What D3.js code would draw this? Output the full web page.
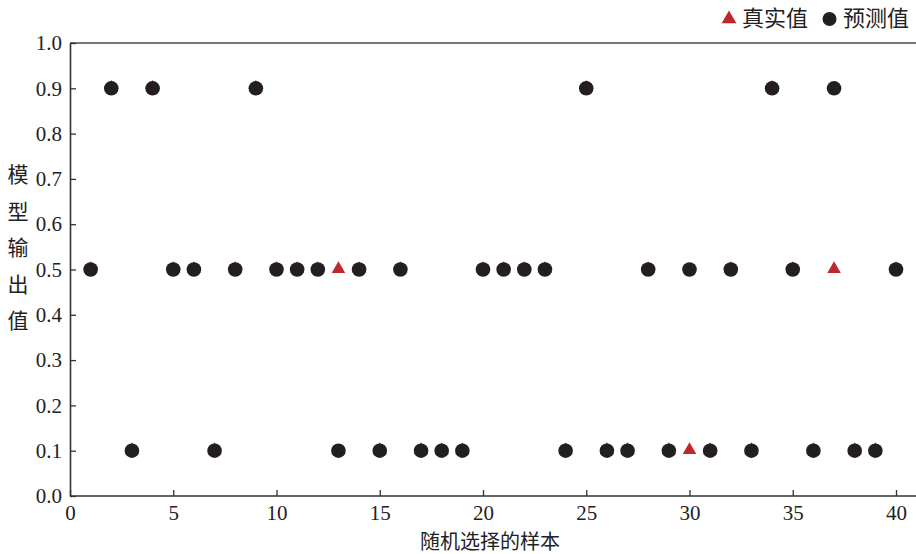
<!DOCTYPE html>
<html><head><meta charset="utf-8">
<script src="https://cdn.jsdelivr.net/npm/d3@7"></script>
<style>body{margin:0;background:#fff} .tick text{font-family:"Liberation Serif","Times New Roman",serif !important;}</style>
</head><body>
<svg id="c" width="916" height="554"></svg>
<script>
const samples = d3.range(1, 41);
const predicted = [0.5,0.9,0.1,0.9,0.5,0.5,0.1,0.5,0.9,0.5,
                   0.5,0.5,0.1,0.5,0.1,0.5,0.1,0.1,0.1,0.5,
                   0.5,0.5,0.5,0.1,0.9,0.1,0.1,0.5,0.1,0.5,
                   0.1,0.5,0.1,0.9,0.5,0.1,0.9,0.1,0.1,0.5];
const actual =    [0.5,0.9,0.1,0.9,0.5,0.5,0.1,0.5,0.9,0.5,
                   0.5,0.5,0.5,0.5,0.1,0.5,0.1,0.1,0.1,0.5,
                   0.5,0.5,0.5,0.1,0.9,0.1,0.1,0.5,0.1,0.1,
                   0.1,0.5,0.1,0.9,0.5,0.1,0.5,0.1,0.1,0.5];
const xTicks = [0,5,10,15,20,25,30,35,40];
const yTicks = [0,0.1,0.2,0.3,0.4,0.5,0.6,0.7,0.8,0.9,1.0];
const legendLabels = ["真实值","预测值"];
const xTitle = "随机选择的样本";
const yTitle = "模型输出值";

const svg = d3.select("#c");
const L = 70, R = 916, T = 43, B = 496;
const x = d3.scaleLinear().domain([0, 40]).range([L, 896]);
const y = d3.scaleLinear().domain([0, 1]).range([B, T]);
const serif = '"Liberation Serif","Times New Roman",serif';
const cjk = '"Noto Sans CJK SC","Noto Sans CJK JP",sans-serif';

// top border
svg.append("line").attr("x1", L).attr("x2", R).attr("y1", T).attr("y2", T)
  .attr("stroke", "#777").attr("stroke-width", 2);

// x axis
const xa = svg.append("g").attr("transform", `translate(0,${B})`)
  .call(d3.axisBottom(x).tickValues(xTicks).tickSizeInner(-6).tickSizeOuter(0).tickPadding(9));
xa.select(".domain").attr("d", `M${L},0H${R}`);
// y axis
const ya = svg.append("g").attr("transform", `translate(${L},0)`)
  .call(d3.axisLeft(y).tickValues(yTicks).tickFormat(d3.format(".1f")).tickSizeInner(-6).tickSizeOuter(0).tickPadding(8));
[xa, ya].forEach(a => {
  a.attr("font-family", serif).attr("font-size", 21);
  a.select(".domain").attr("stroke", "#333").attr("stroke-width", 1.6);
  a.selectAll(".tick line").attr("stroke", "#333").attr("stroke-width", 1.3);
  a.selectAll(".tick text").attr("fill", "#222");
});

// titles
svg.append("text").attr("x", 490).attr("y", 549).attr("text-anchor", "middle")
  .style("font-family", cjk).style("font-size", "20px").attr("fill", "#222").text(xTitle);
const yt = svg.append("text").style("font-family", cjk).style("font-size", "21px").attr("fill", "#222")
  .attr("text-anchor", "middle");
Array.from(yTitle).forEach((ch, i) => {
  yt.append("tspan").attr("x", 18).attr("y", 182 + i * 36.5).text(ch);
});

const red = "#c0272d", dark = "#231f20";
const tri = d3.symbol().type(d3.symbolTriangle).size(80);
// actual values (triangles) below
svg.append("g").selectAll("path").data(samples).join("path")
  .attr("d", tri).attr("fill", red)
  .attr("transform", (d, i) => `translate(${x(d)},${y(actual[i]) - 0.5})`);
// predicted (circles) on top
svg.append("g").selectAll("circle").data(samples).join("circle")
  .attr("cx", d => x(d)).attr("cy", (d, i) => y(predicted[i])).attr("r", 7.3).attr("fill", dark);

// legend
svg.append("path").attr("d", d3.symbol().type(d3.symbolTriangle).size(95)).attr("fill", red).attr("transform", "translate(729,19)");
svg.append("text").attr("x", 742).attr("y", 26).style("font-family", cjk).style("font-size", "22px")
  .attr("fill", "#222").text(legendLabels[0]);
svg.append("circle").attr("cx", 829.5).attr("cy", 19).attr("r", 7).attr("fill", dark);
svg.append("text").attr("x", 843).attr("y", 26).style("font-family", cjk).style("font-size", "22px")
  .attr("fill", "#222").text(legendLabels[1]);
</script>
</body></html>
